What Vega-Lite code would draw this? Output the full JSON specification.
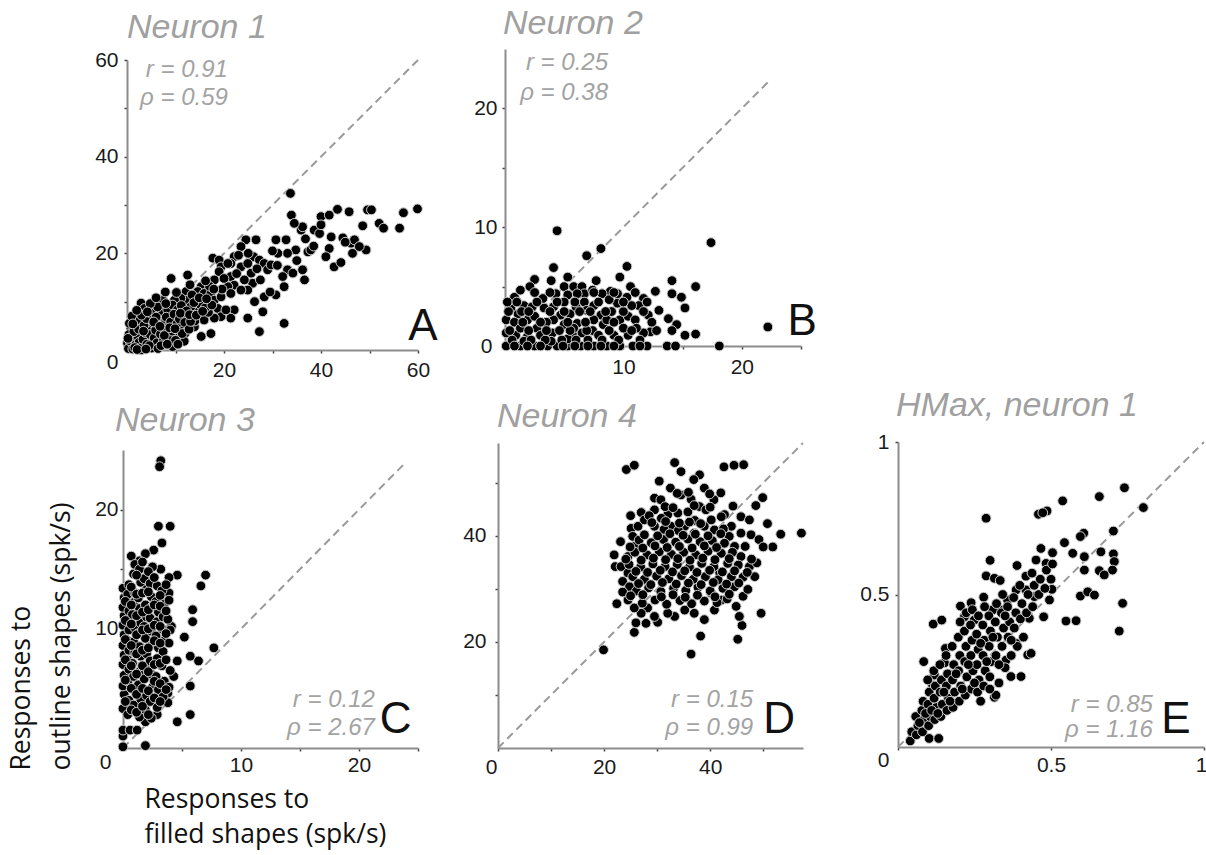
{
  "$schema": "https://vega.github.io/schema/vega-lite/v6.json",
  "background": "white",
  "padding": {"left": 8, "top": 7, "right": 4, "bottom": 4},
  "config": {
    "view": {"stroke": null},
    "axis": {
      "grid": false,
      "domainColor": "#8c8c8c",
      "domainWidth": 2,
      "tickColor": "#444444",
      "tickWidth": 1.5,
      "tickSize": 3,
      "labelFont": "Liberation Sans",
      "labelFontSize": 21,
      "labelColor": "#1a1a1a",
      "labelFlush": false,
      "labelOverlap": false,
      "titleFont": "Open Sans",
      "titleFontSize": 26.5,
      "titleFontWeight": "normal",
      "titleColor": "#111111"
    },
    "title": {
      "font": "Liberation Sans",
      "fontStyle": "italic",
      "fontWeight": "normal",
      "fontSize": 34,
      "color": "#a0a0a0",
      "anchor": "start",
      "frame": "group",
      "baseline": "alphabetic"
    }
  },
  "datasets": {
    "neuron1": [
      {"x":33.7,"y":32.4},{"x":33.9,"y":27.9},{"x":43.4,"y":29.1},{"x":45.8,"y":28.6},{"x":49.6,"y":29},{"x":50.4,"y":29},{"x":59.9,"y":29.2},{"x":57,"y":28.4},{"x":56.2,"y":25.2},{"x":52,"y":26.2},{"x":52.9,"y":25.2},{"x":48.6,"y":25.7},{"x":49.3,"y":20.7},{"x":46.2,"y":22.1},{"x":46.9,"y":22.8},{"x":47.9,"y":21.4},{"x":46.5,"y":20},{"x":40,"y":27.6},{"x":41.7,"y":27.9},{"x":42.1,"y":23.4},{"x":41.7,"y":21},{"x":41,"y":19.3},{"x":42.7,"y":17.2},{"x":44.1,"y":18.1},{"x":38.6,"y":24.8},{"x":39.7,"y":24.1},{"x":40,"y":25.9},{"x":37.3,"y":20.3},{"x":37.9,"y":20.7},{"x":35.9,"y":24.8},{"x":36.2,"y":25.5},{"x":34.5,"y":26.2},{"x":34.8,"y":20.7},{"x":33.1,"y":20},{"x":36.2,"y":16.6},{"x":36.6,"y":14.5},{"x":33.1,"y":16.6},{"x":34.2,"y":15.9},{"x":32.4,"y":5.5},{"x":30.7,"y":22.8},{"x":31.1,"y":20},{"x":32.8,"y":22.8},{"x":32.1,"y":15.2},{"x":32.4,"y":13.1},{"x":30.7,"y":11.4},{"x":28.3,"y":11},{"x":28,"y":7.9},{"x":27.3,"y":3.8},{"x":26.3,"y":10},{"x":24.9,"y":6.6},{"x":26.6,"y":22.8},{"x":24.5,"y":22.8},{"x":23.5,"y":21.4},{"x":26.1,"y":19.3},{"x":27.3,"y":18.6},{"x":28.3,"y":17.9},{"x":29,"y":16.6},{"x":29.7,"y":17.6},{"x":22.1,"y":19.3},{"x":21.4,"y":17.9},{"x":23.5,"y":17.2},{"x":24.9,"y":17.9},{"x":25.6,"y":15.9},{"x":25.9,"y":13.8},{"x":24.9,"y":12.4},{"x":21.4,"y":15.2},{"x":22.1,"y":13.4},{"x":23.5,"y":12.4},{"x":24.2,"y":14.5},{"x":20.8,"y":13.1},{"x":21.4,"y":11.7},{"x":22.1,"y":8.3},{"x":21.4,"y":6.6},{"x":17.7,"y":19},{"x":19,"y":18.6},{"x":19.4,"y":17.2},{"x":20.8,"y":17.9},{"x":19,"y":16.2},{"x":18,"y":14.5},{"x":12.5,"y":15.5},{"x":9.1,"y":14.8},{"x":15.3,"y":13.1},{"x":14.6,"y":12.1},{"x":15.9,"y":11.7},{"x":17.3,"y":11.7},{"x":18,"y":10.3},{"x":19.4,"y":11},{"x":16.6,"y":9.7},{"x":18.7,"y":8.6},{"x":19.4,"y":6.9},{"x":20.4,"y":8.3},{"x":18,"y":6.6},{"x":17.3,"y":3.4},{"x":15.9,"y":6.2},{"x":13.9,"y":4.8},{"x":15.3,"y":2.8},{"x":12.2,"y":12.1},{"x":12.5,"y":10.3},{"x":11.1,"y":10.7},{"x":9.8,"y":10.3},{"x":7.4,"y":10.3},{"x":2.9,"y":9.7},{"x":3.6,"y":8.6},{"x":1.5,"y":6.6},{"x":0.8,"y":4.5},{"x":5.6,"y":7.2},{"x":7,"y":7.9},{"x":8.4,"y":8.3},{"x":9.4,"y":9.3},{"x":10.4,"y":8.3},{"x":11.5,"y":7.2},{"x":9.8,"y":6.2},{"x":8.4,"y":5.2},{"x":11.1,"y":4.8},{"x":12.5,"y":6.9},{"x":13.5,"y":7.6},{"x":14.6,"y":8.6},{"x":8.4,"y":3.4},{"x":9.4,"y":0.7},{"x":6.3,"y":4.1},{"x":4.9,"y":2.1},{"x":2.9,"y":0},{"x":0.1,"y":1.4},{"x":0.8,"y":0.7},{"x":1.5,"y":2.1},
      {"x":44.5,"y":23.2},{"x":45,"y":22.3},{"x":38.5,"y":21.5},{"x":36.8,"y":23},{"x":35,"y":18.5},{"x":31,"y":17.5},{"x":30,"y":20.5},{"x":29.5,"y":12},{"x":27.5,"y":14.5},{"x":26.8,"y":16.8},{"x":25,"y":20},{"x":23,"y":19.6},{"x":22.6,"y":15.8},{"x":20,"y":14.8},{"x":19.6,"y":12.6},{"x":17,"y":13.2},{"x":16.2,"y":14.3},{"x":14.2,"y":10.6},{"x":13.4,"y":11.4},{"x":15.1,"y":9.4},{"x":16.8,"y":7.8},{"x":13.2,"y":9},{"x":14,"y":6},{"x":12,"y":3.5},{"x":10.6,"y":2.7},{"x":11.8,"y":1.8},
      {"x":0.3,"y":0.3},{"x":0.6,"y":1.9},{"x":1.2,"y":0.2},{"x":1.8,"y":1.1},{"x":2.2,"y":2.8},{"x":2.5,"y":1.6},{"x":3.1,"y":0.6},{"x":3.3,"y":2.2},{"x":3.8,"y":3.6},{"x":4.1,"y":1.2},{"x":4.4,"y":4.8},{"x":4.8,"y":3.2},{"x":5.1,"y":0.4},{"x":5.3,"y":5.6},{"x":5.6,"y":2.5},{"x":5.9,"y":4.1},{"x":6.2,"y":1.5},{"x":6.6,"y":6.1},{"x":6.9,"y":3.3},{"x":7.2,"y":5.2},{"x":7.5,"y":1.9},{"x":7.8,"y":4.4},{"x":8.1,"y":6.8},{"x":8.6,"y":2.4},{"x":9,"y":5.8},{"x":9.3,"y":3.9},{"x":9.7,"y":7.4},{"x":10,"y":2},{"x":10.3,"y":5.4},{"x":10.8,"y":6.4},{"x":11.4,"y":3.4},{"x":11.9,"y":5.7},{"x":12.8,"y":4.3},{"x":13.1,"y":5.9},{"x":0.4,"y":3.2},{"x":0.5,"y":5.5},{"x":1,"y":7},{"x":1.4,"y":3.8},{"x":2,"y":5.2},{"x":2.4,"y":4.3},{"x":2.7,"y":6.2},{"x":3.5,"y":5.1},{"x":4,"y":6.5},{"x":4.6,"y":0.9},{"x":5,"y":7.6},{"x":6,"y":6.8},{"x":6.4,"y":0.3},{"x":7,"y":0.9},{"x":7.7,"y":3},{"x":8.3,"y":1.2},{"x":0.2,"y":2.4},{"x":1.6,"y":0.5},{"x":2.1,"y":0.1},{"x":3.9,"y":0.2},{"x":8.8,"y":4.6},{"x":9.9,"y":4.4},{"x":10.5,"y":1.2},{"x":11.2,"y":9.2},{"x":12.3,"y":8.1},{"x":13.8,"y":9.8},{"x":14.9,"y":10.8},{"x":16.1,"y":8.7},{"x":17.5,"y":9.3},{"x":6.3,"y":8.9},{"x":4.8,"y":9.6},{"x":8,"y":9.6},{"x":3,"y":7.2},{"x":2,"y":8.2},
      {"x":11,"y":7.6},{"x":12.9,"y":7.3},{"x":14.3,"y":7.2},{"x":15.6,"y":8},{"x":16.4,"y":10.6},{"x":17.9,"y":12.6},{"x":13,"y":13.5},{"x":10.2,"y":11.9},{"x":7.9,"y":12},{"x":6,"y":10.8},{"x":4.2,"y":7.9},{"x":5.5,"y":5.8},{"x":6.8,"y":4.9},{"x":3.4,"y":3.9},{"x":1.2,"y":5.4}
    ],
    "neuron2": [
      {"x":4.4,"y":9.7},{"x":8.1,"y":8.2},{"x":6.9,"y":7.6},{"x":17.4,"y":8.7},{"x":4.1,"y":6.6},{"x":10.3,"y":6.7},{"x":9.7,"y":5.8},{"x":7.7,"y":5.5},{"x":2.5,"y":5.6},{"x":2.1,"y":5},{"x":3.9,"y":5.5},{"x":4.3,"y":4.4},{"x":5,"y":5},{"x":5.8,"y":5},{"x":6.5,"y":5},{"x":6.7,"y":4.4},{"x":5.3,"y":4.3},{"x":10.6,"y":5},{"x":10.3,"y":4.1},{"x":8.9,"y":4.6},{"x":8.2,"y":4.4},{"x":12.7,"y":4.6},{"x":14.1,"y":5.5},{"x":14.1,"y":4.4},{"x":14.9,"y":4.1},{"x":15.2,"y":3.2},{"x":16.1,"y":5},{"x":11.7,"y":4},{"x":11.3,"y":3.4},{"x":10.7,"y":3.4},{"x":13,"y":3},{"x":12.1,"y":2.6},{"x":13.8,"y":2.3},{"x":14.5,"y":1.8},{"x":14.1,"y":1.3},{"x":15.2,"y":0.9},{"x":16.1,"y":1},{"x":18.1,"y":0},{"x":22.2,"y":1.6},{"x":12.3,"y":1.2},{"x":11.7,"y":1.1},{"x":12,"y":0},{"x":13.7,"y":0},{"x":14.4,"y":0},{"x":9.7,"y":0},{"x":10.4,"y":0.9},{"x":8.6,"y":0},{"x":7.5,"y":0},{"x":6.4,"y":0},{"x":5.3,"y":0},{"x":4.4,"y":0},{"x":3.6,"y":0},{"x":2.5,"y":0},{"x":1.3,"y":0},{"x":0.1,"y":0},
      {"x":0.1,"y":2.2},{"x":0.1,"y":1.1},{"x":0.8,"y":4.1},{"x":1.6,"y":3.4},{"x":1.1,"y":2.7},{"x":1.9,"y":2.2},{"x":2.7,"y":1.5},{"x":2.5,"y":2.5},{"x":3.3,"y":3.2},{"x":3.2,"y":4},{"x":4.1,"y":3.3},{"x":4.7,"y":2.6},{"x":4.1,"y":2.2},{"x":5.5,"y":2.7},{"x":6,"y":3.3},{"x":6.1,"y":1.9},{"x":5,"y":1.8},{"x":4,"y":1.1},{"x":3,"y":0.9},{"x":1.9,"y":0.8},{"x":0.9,"y":0.9},{"x":0.8,"y":2},{"x":1.3,"y":1.5},{"x":2.3,"y":3.3},{"x":5,"y":3.7},{"x":6.7,"y":3.7},{"x":6.9,"y":3},{"x":7.5,"y":3.4},{"x":8.1,"y":2.6},{"x":7.5,"y":2.2},{"x":8.3,"y":1.8},{"x":7.4,"y":1.3},{"x":6.5,"y":1.1},{"x":5.7,"y":0.9},{"x":7.9,"y":0.9},{"x":8.6,"y":2.2},{"x":9,"y":2.9},{"x":9.5,"y":3.6},{"x":9.7,"y":2.2},{"x":10.4,"y":2.5},{"x":11,"y":2.2},{"x":11.1,"y":1.5},{"x":10,"y":1.5},{"x":9.2,"y":0.9},{"x":8.8,"y":3.9},{"x":5.3,"y":0.6},{"x":0.5,"y":3.2},{"x":1.3,"y":4.7},{"x":1.6,"y":0.4},{"x":3.9,"y":0.4},{"x":5.8,"y":1.5},{"x":3.5,"y":2},{"x":6.1,"y":4.4},{"x":7.4,"y":4.7},{"x":9.5,"y":4.4},{"x":5.3,"y":5.8},
      {"x":0.6,"y":0.5},{"x":2.2,"y":0.5},{"x":3.4,"y":0.5},{"x":4.8,"y":0.5},{"x":6,"y":0.5},{"x":7,"y":0.5},{"x":8.2,"y":0.5},{"x":9.6,"y":0.5},{"x":11.4,"y":0.5},
      {"x":0.4,"y":1.3},{"x":2,"y":1.3},{"x":3.5,"y":1.3},{"x":4.6,"y":1.3},{"x":5.5,"y":1.3},{"x":6.9,"y":1.3},{"x":8.8,"y":1.3},{"x":10.7,"y":1.3},{"x":12.8,"y":1.3},
      {"x":1.5,"y":2},{"x":3,"y":2},{"x":5.3,"y":2},{"x":6.8,"y":2},{"x":9.2,"y":2},{"x":12.4,"y":2},
      {"x":0.3,"y":2.9},{"x":1.4,"y":2.9},{"x":2,"y":2.9},{"x":3.8,"y":2.9},{"x":5,"y":2.9},{"x":6.3,"y":2.9},{"x":7.2,"y":2.9},{"x":8.5,"y":2.9},{"x":10,"y":2.9},{"x":11.7,"y":2.9},
      {"x":0.2,"y":3.7},{"x":1,"y":3.7},{"x":2.7,"y":3.7},{"x":4.4,"y":3.7},{"x":5.9,"y":3.7},{"x":7.9,"y":3.7},{"x":10,"y":3.7},{"x":12,"y":3.7},
      {"x":2.5,"y":4.5},{"x":3.8,"y":4.5},{"x":7.5,"y":4.5},{"x":9.2,"y":4.5},{"x":11,"y":4.5},
      {"x":0.8,"y":0},{"x":1.9,"y":0},{"x":3,"y":0},{"x":4.9,"y":0},{"x":5.9,"y":0},{"x":7,"y":0},{"x":8.1,"y":0},{"x":9.2,"y":0},{"x":10.8,"y":0},{"x":11.4,"y":0}
    ],
    "neuron3": [
      {"x":3.2,"y":24.1},{"x":3.1,"y":23.6},{"x":3,"y":18.6},{"x":4,"y":18.6},{"x":3.3,"y":17.2},{"x":2.6,"y":16.6},{"x":1.9,"y":16.3},{"x":0.7,"y":16.1},{"x":1.4,"y":15.7},{"x":3.2,"y":15},{"x":4.6,"y":14.5},{"x":7,"y":14.5},{"x":6.6,"y":13.6},{"x":3.9,"y":14.3},{"x":3.9,"y":13},{"x":5.9,"y":11.6},{"x":5.9,"y":10.6},{"x":5.2,"y":9.3},{"x":4.1,"y":10.2},{"x":7.7,"y":8.4},{"x":5.7,"y":7.7},{"x":6.4,"y":7.3},{"x":4.6,"y":7.3},{"x":4.3,"y":6},{"x":3.8,"y":4.6},{"x":3.8,"y":3.8},{"x":5.7,"y":5.2},{"x":5.7,"y":2.8},{"x":4.6,"y":2.2},{"x":1.9,"y":0.2},{"x":0,"y":0.1},{"x":0,"y":1},{"x":0,"y":1.5},{"x":0.6,"y":1.5},{"x":1.2,"y":1.5},{"x":1.9,"y":2.2},{"x":2.9,"y":2.8},
      {"x":0,"y":3.3},{"x":0.1,"y":4.5},{"x":0,"y":5.2},{"x":0.1,"y":6.1},{"x":0,"y":7},{"x":0.1,"y":7.8},{"x":0,"y":8.6},{"x":0.1,"y":9.5},{"x":0,"y":10.3},{"x":0.1,"y":11.1},{"x":0,"y":11.8},{"x":0.1,"y":12.6},{"x":0,"y":13.4},
      {"x":0.4,"y":2.8},{"x":0.5,"y":4},{"x":0.4,"y":5.6},{"x":0.5,"y":6.6},{"x":0.4,"y":7.4},{"x":0.5,"y":8.2},{"x":0.4,"y":9},{"x":0.5,"y":9.9},{"x":0.4,"y":10.8},{"x":0.5,"y":11.5},{"x":0.4,"y":12.9},{"x":0.5,"y":13.7},
      {"x":0.9,"y":3.6},{"x":1,"y":4.8},{"x":0.9,"y":6},{"x":0.8,"y":7.1},{"x":1,"y":8},{"x":0.9,"y":8.9},{"x":1,"y":10.1},{"x":0.8,"y":11.2},{"x":0.9,"y":12.2},{"x":1,"y":13},{"x":0.9,"y":14.6},{"x":1,"y":15.4},
      {"x":1.4,"y":2.6},{"x":1.5,"y":4.1},{"x":1.3,"y":5.3},{"x":1.4,"y":6.4},{"x":1.5,"y":7.7},{"x":1.4,"y":8.5},{"x":1.3,"y":9.6},{"x":1.5,"y":10.5},{"x":1.4,"y":11.7},{"x":1.3,"y":12.6},{"x":1.5,"y":13.9},{"x":1.4,"y":15},
      {"x":1.9,"y":3.2},{"x":2,"y":4.4},{"x":1.8,"y":5.8},{"x":1.9,"y":6.8},{"x":2,"y":7.9},{"x":1.9,"y":9.2},{"x":1.8,"y":10.2},{"x":2,"y":11},{"x":1.9,"y":12},{"x":2,"y":13.3},{"x":1.8,"y":14.2},
      {"x":2.4,"y":2.5},{"x":2.3,"y":3.9},{"x":2.5,"y":5.1},{"x":2.4,"y":6.2},{"x":2.3,"y":7.3},{"x":2.5,"y":8.7},{"x":2.4,"y":9.8},{"x":2.3,"y":10.9},{"x":2.5,"y":11.9},{"x":2.4,"y":12.7},{"x":2.3,"y":13.8},{"x":2.5,"y":15.2},
      {"x":2.9,"y":3.4},{"x":3,"y":4.9},{"x":2.8,"y":6},{"x":2.9,"y":7.5},{"x":3,"y":8.4},{"x":2.8,"y":9.4},{"x":2.9,"y":10.6},{"x":3,"y":11.4},{"x":2.8,"y":12.3},{"x":2.9,"y":13.6},
      {"x":3.4,"y":4.3},{"x":3.5,"y":5.6},{"x":3.3,"y":6.9},{"x":3.4,"y":8.1},{"x":3.5,"y":9},{"x":3.3,"y":10},{"x":3.4,"y":11},{"x":3.5,"y":12.1},{"x":3.3,"y":13.2},
      {"x":3.9,"y":5.1},{"x":4,"y":6.5},{"x":3.9,"y":8.8},{"x":4,"y":9.9},{"x":3.8,"y":10.8},{"x":3.9,"y":12.4},
      {"x":0.2,"y":3.9},{"x":0.2,"y":5.7},{"x":0.2,"y":7.4},{"x":0.2,"y":9.1},{"x":0.2,"y":10.7},{"x":0.2,"y":12.3},
      {"x":0.7,"y":3.2},{"x":0.7,"y":5},{"x":0.7,"y":6.9},{"x":0.7,"y":8.6},{"x":0.7,"y":10.4},{"x":0.7,"y":12},{"x":0.7,"y":13.5},
      {"x":1.15,"y":3},{"x":1.15,"y":4.5},{"x":1.15,"y":6.2},{"x":1.15,"y":7.9},{"x":1.15,"y":9.5},{"x":1.15,"y":11.1},{"x":1.15,"y":12.9},{"x":1.15,"y":14.5},
      {"x":1.65,"y":3.5},{"x":1.65,"y":5},{"x":1.65,"y":6.9},{"x":1.65,"y":8.2},{"x":1.65,"y":9.9},{"x":1.65,"y":11.4},{"x":1.65,"y":13},{"x":1.65,"y":15.6},
      {"x":2.15,"y":2.8},{"x":2.15,"y":4.8},{"x":2.15,"y":6.4},{"x":2.15,"y":8.4},{"x":2.15,"y":10},{"x":2.15,"y":11.6},{"x":2.15,"y":13.1},{"x":2.15,"y":14.8},
      {"x":2.65,"y":4.2},{"x":2.65,"y":5.6},{"x":2.65,"y":7},{"x":2.65,"y":9},{"x":2.65,"y":10.3},{"x":2.65,"y":12},{"x":2.65,"y":14.3},
      {"x":3.15,"y":3.9},{"x":3.15,"y":5.4},{"x":3.15,"y":7.1},{"x":3.15,"y":8.8},{"x":3.15,"y":10.2},{"x":3.15,"y":11.9},{"x":3.15,"y":12.8},
      {"x":3.65,"y":4.9},{"x":3.65,"y":7.4},{"x":3.65,"y":9.6},{"x":3.65,"y":11.5},{"x":3.65,"y":13.7}
    ],
    "neuron4": [
      {"x":19.9,"y":18.5},{"x":36.4,"y":17.7},{"x":38.2,"y":21.1},{"x":45.2,"y":20.5},{"x":46,"y":23.1},{"x":25.7,"y":21.8},{"x":26,"y":23.6},{"x":27.9,"y":23.5},{"x":30.1,"y":23.7},{"x":22.4,"y":27.2},{"x":49.6,"y":25.4},{"x":57.2,"y":40.5},{"x":53.3,"y":40.3},{"x":51.8,"y":37.9},{"x":50.8,"y":42.3},{"x":49.9,"y":47.2},{"x":48.6,"y":45.7},{"x":46.3,"y":53.4},{"x":44.5,"y":53.3},{"x":42.6,"y":53},{"x":33.3,"y":53.8},{"x":34.5,"y":52.1},{"x":24.2,"y":52.5},{"x":25.7,"y":53.3},{"x":38,"y":51.5},{"x":36.9,"y":50.6},{"x":30.4,"y":50.3},{"x":32.5,"y":49},{"x":38.9,"y":49},{"x":29.5,"y":47.1},{"x":30.7,"y":46.8},{"x":34.5,"y":47.7},{"x":40.7,"y":46.8},{"x":36.4,"y":46.9},{"x":27,"y":44.4},{"x":25,"y":43.8},{"x":32,"y":44},{"x":33.9,"y":44.3},{"x":35.8,"y":44.5},{"x":38,"y":45.5},{"x":39.2,"y":44.9},{"x":42.7,"y":44},{"x":45.8,"y":43.6},{"x":47.4,"y":43},{"x":23.1,"y":38.9},{"x":21.9,"y":36.4},{"x":22.1,"y":34.2},{"x":23.5,"y":31.4},{"x":25.1,"y":41.4},{"x":25.4,"y":39.9},
      {"x":44.6,"y":30.4},{"x":46.2,"y":28.6},{"x":44.9,"y":26.7},{"x":45.5,"y":24.8},{"x":47.4,"y":34.2},{"x":48.4,"y":32.3},{"x":47.7,"y":40.2},{"x":45.8,"y":40.5},{"x":43.6,"y":39.9},{"x":44.6,"y":38},{"x":45.8,"y":36.1},{"x":43.3,"y":34.8},{"x":44,"y":32.3},{"x":42.1,"y":36.7},{"x":41.8,"y":33},{"x":42.1,"y":27.9},{"x":40.2,"y":29.2},{"x":40.8,"y":26},{"x":38.9,"y":24.2},{"x":37,"y":25.4},{"x":35.2,"y":26},{"x":33.3,"y":24.8},{"x":32,"y":25.4},{"x":29.5,"y":24.8},{"x":28.2,"y":26.4},{"x":27,"y":25.4},{"x":25.7,"y":26.4},{"x":24.5,"y":27.9},{"x":24.8,"y":30.4},{"x":23.5,"y":29.4},{"x":23.2,"y":34.2},{"x":24.5,"y":36.1},{"x":25.7,"y":38},{"x":24.5,"y":33},{"x":26.4,"y":41.8},{"x":27.6,"y":43},{"x":29.5,"y":41.8},{"x":29.5,"y":44.9},{"x":30.8,"y":43.3},{"x":32.6,"y":41.8},{"x":35.2,"y":41.8},{"x":37,"y":40.5},{"x":38.9,"y":41.8},{"x":40.2,"y":43},{"x":40.8,"y":41.1},{"x":42.1,"y":43.6},{"x":44,"y":41.8},
      {"x":27.2,"y":27.3},{"x":29.6,"y":27.9},{"x":31.8,"y":27.1},{"x":34.3,"y":27.8},{"x":36.5,"y":27.2},{"x":38.9,"y":27.7},{"x":41.3,"y":27.4},{"x":43.2,"y":28.1},
      {"x":26.1,"y":29.6},{"x":28.4,"y":30.2},{"x":30.7,"y":29.5},{"x":33.1,"y":30.1},{"x":35.4,"y":29.7},{"x":37.7,"y":30.3},{"x":40,"y":29.6},{"x":42.4,"y":30.1},{"x":47.1,"y":29.9},
      {"x":25.4,"y":32.3},{"x":27.6,"y":31.8},{"x":29.9,"y":32.4},{"x":32.2,"y":31.9},{"x":34.6,"y":32.5},{"x":36.8,"y":31.8},{"x":39.1,"y":32.3},{"x":41.5,"y":31.7},{"x":46.2,"y":32.2},
      {"x":24.7,"y":34.6},{"x":26.9,"y":34.1},{"x":29.2,"y":34.7},{"x":31.5,"y":34.2},{"x":33.8,"y":34.6},{"x":36.1,"y":34.1},{"x":38.4,"y":34.8},{"x":40.7,"y":34.2},{"x":45.3,"y":34.5},{"x":48.8,"y":34.9},
      {"x":25.8,"y":36.9},{"x":28.1,"y":36.4},{"x":30.4,"y":37},{"x":32.7,"y":36.5},{"x":35,"y":36.9},{"x":37.3,"y":36.4},{"x":39.6,"y":37.1},{"x":44.2,"y":36.9},
      {"x":26.6,"y":39.2},{"x":28.9,"y":38.7},{"x":31.2,"y":39.3},{"x":33.5,"y":38.8},{"x":35.8,"y":39.4},{"x":38.1,"y":38.9},{"x":40.4,"y":39.1},{"x":42.7,"y":38.6},{"x":49.2,"y":39.3},
      {"x":31.3,"y":41.2},{"x":34,"y":41},{"x":42.5,"y":41.3},{"x":28.5,"y":43.8},{"x":37.1,"y":42.9},
      {"x":25,"y":28.7},{"x":27.3,"y":28.9},{"x":30.8,"y":28.5},{"x":33,"y":28.9},{"x":35.3,"y":28.4},{"x":37.6,"y":28.8},{"x":40.9,"y":28.5},{"x":43.6,"y":29},
      {"x":26.5,"y":31},{"x":28.8,"y":30.8},{"x":31,"y":31.2},{"x":33.6,"y":30.9},{"x":35.9,"y":31.1},{"x":38.3,"y":30.8},{"x":40.6,"y":31.2},{"x":43.1,"y":30.9},{"x":45.4,"y":31.1},
      {"x":26,"y":33.3},{"x":28.2,"y":33.1},{"x":30.6,"y":33.5},{"x":32.9,"y":33.2},{"x":35.2,"y":33.4},{"x":37.5,"y":33.1},{"x":39.9,"y":33.5},{"x":42.3,"y":33.2},{"x":44.6,"y":33.4},{"x":47,"y":33.1},
      {"x":24.1,"y":35.6},{"x":27,"y":35.4},{"x":29.3,"y":35.8},{"x":31.6,"y":35.5},{"x":33.9,"y":35.7},{"x":36.2,"y":35.4},{"x":38.6,"y":35.8},{"x":40.9,"y":35.5},{"x":43.6,"y":35.7},{"x":47.8,"y":35.6},
      {"x":24.9,"y":37.9},{"x":27.3,"y":37.7},{"x":29.6,"y":38.1},{"x":31.9,"y":37.8},{"x":34.2,"y":38},{"x":36.6,"y":37.7},{"x":38.9,"y":38.1},{"x":41.2,"y":37.8},{"x":46.6,"y":38},{"x":50,"y":37.9},
      {"x":27.6,"y":40.2},{"x":30.1,"y":40},{"x":32.4,"y":40.4},{"x":34.9,"y":40.1},{"x":37.2,"y":40.3},{"x":39.6,"y":40},{"x":42,"y":40.4},
      {"x":29,"y":42.5},{"x":31.6,"y":42.7},{"x":34.2,"y":42.4},{"x":36.1,"y":42.6},{"x":38.2,"y":42.3},
      {"x":31.5,"y":45.5},{"x":33,"y":45.3},{"x":37,"y":45.7},{"x":40,"y":45.4},{"x":44.3,"y":45.6},
      {"x":33.8,"y":48},{"x":35.9,"y":48.2},{"x":39.9,"y":47.9},{"x":42,"y":48.1}
    ],
    "hmax1": [
      {"x":0.74,"y":0.85},{"x":0.802,"y":0.785},{"x":0.658,"y":0.821},{"x":0.538,"y":0.807},{"x":0.459,"y":0.763},{"x":0.487,"y":0.774},{"x":0.473,"y":0.768},{"x":0.288,"y":0.75},{"x":0.704,"y":0.708},{"x":0.607,"y":0.701},{"x":0.596,"y":0.69},{"x":0.544,"y":0.67},{"x":0.467,"y":0.651},{"x":0.505,"y":0.637},{"x":0.571,"y":0.635},{"x":0.609,"y":0.624},{"x":0.663,"y":0.64},{"x":0.704,"y":0.633},{"x":0.707,"y":0.608},{"x":0.701,"y":0.58},{"x":0.609,"y":0.58},{"x":0.658,"y":0.578},{"x":0.674,"y":0.564},{"x":0.451,"y":0.613},{"x":0.484,"y":0.602},{"x":0.389,"y":0.595},{"x":0.301,"y":0.612},{"x":0.288,"y":0.561},{"x":0.315,"y":0.553},{"x":0.334,"y":0.546},{"x":0.28,"y":0.491},{"x":0.596,"y":0.495},{"x":0.62,"y":0.509},{"x":0.642,"y":0.498},{"x":0.734,"y":0.471},{"x":0.723,"y":0.38},{"x":0.549,"y":0.413},{"x":0.582,"y":0.414},{"x":0.476,"y":0.427},{"x":0.429,"y":0.422},{"x":0.495,"y":0.482},{"x":0.503,"y":0.517},{"x":0.446,"y":0.493},{"x":0.418,"y":0.515},{"x":0.386,"y":0.515},{"x":0.358,"y":0.482},{"x":0.337,"y":0.449},{"x":0.309,"y":0.449},{"x":0.115,"y":0.403},{"x":0.143,"y":0.416},{"x":0.204,"y":0.462},{"x":0.239,"y":0.473},{"x":0.217,"y":0.427},{"x":0.249,"y":0.416},{"x":0.084,"y":0.28},{"x":0.155,"y":0.323},{"x":0.152,"y":0.276},{"x":0.119,"y":0.236},{"x":0.113,"y":0.203},{"x":0.369,"y":0.231},{"x":0.402,"y":0.231},{"x":0.315,"y":0.163},{"x":0.353,"y":0.285},{"x":0.424,"y":0.302},{"x":0.435,"y":0.307},{"x":0.386,"y":0.34},{"x":0.102,"y":0.028},{"x":0.133,"y":0.028},
      {"x":0.04,"y":0.02},{"x":0.045,"y":0.05},{"x":0.06,"y":0.04},{"x":0.065,"y":0.07},{"x":0.058,"y":0.1},{"x":0.08,"y":0.05},{"x":0.085,"y":0.09},{"x":0.078,"y":0.12},{"x":0.082,"y":0.15},{"x":0.1,"y":0.07},{"x":0.105,"y":0.1},{"x":0.098,"y":0.14},{"x":0.102,"y":0.18},{"x":0.097,"y":0.22},{"x":0.12,"y":0.09},{"x":0.125,"y":0.13},{"x":0.118,"y":0.16},{"x":0.122,"y":0.2},{"x":0.117,"y":0.25},{"x":0.14,"y":0.1},{"x":0.145,"y":0.14},{"x":0.138,"y":0.18},{"x":0.142,"y":0.22},{"x":0.137,"y":0.27},{"x":0.16,"y":0.12},{"x":0.165,"y":0.16},{"x":0.158,"y":0.2},{"x":0.162,"y":0.24},{"x":0.157,"y":0.3},{"x":0.18,"y":0.13},{"x":0.185,"y":0.18},{"x":0.178,"y":0.22},{"x":0.182,"y":0.27},{"x":0.177,"y":0.33},{"x":0.2,"y":0.15},{"x":0.205,"y":0.2},{"x":0.198,"y":0.25},{"x":0.202,"y":0.3},{"x":0.197,"y":0.36},{"x":0.203,"y":0.41},{"x":0.22,"y":0.17},{"x":0.225,"y":0.23},{"x":0.218,"y":0.28},{"x":0.222,"y":0.33},{"x":0.217,"y":0.38},{"x":0.223,"y":0.44},{"x":0.24,"y":0.19},{"x":0.245,"y":0.25},{"x":0.238,"y":0.3},{"x":0.242,"y":0.35},{"x":0.237,"y":0.4},{"x":0.243,"y":0.45},{"x":0.26,"y":0.18},{"x":0.265,"y":0.22},{"x":0.258,"y":0.27},{"x":0.262,"y":0.32},{"x":0.257,"y":0.37},{"x":0.263,"y":0.43},{"x":0.28,"y":0.2},{"x":0.285,"y":0.25},{"x":0.278,"y":0.3},{"x":0.282,"y":0.35},{"x":0.277,"y":0.4},{"x":0.283,"y":0.46},{"x":0.3,"y":0.23},{"x":0.305,"y":0.28},{"x":0.298,"y":0.33},{"x":0.302,"y":0.38},{"x":0.297,"y":0.43},{"x":0.32,"y":0.3},{"x":0.325,"y":0.36},{"x":0.318,"y":0.41},{"x":0.322,"y":0.47},{"x":0.34,"y":0.33},{"x":0.345,"y":0.39},{"x":0.338,"y":0.44},{"x":0.342,"y":0.5},{"x":0.36,"y":0.36},{"x":0.365,"y":0.41},{"x":0.358,"y":0.46},{"x":0.38,"y":0.39},{"x":0.385,"y":0.44},{"x":0.378,"y":0.49},{"x":0.4,"y":0.42},{"x":0.405,"y":0.47},{"x":0.398,"y":0.53},{"x":0.42,"y":0.44},{"x":0.425,"y":0.5},{"x":0.418,"y":0.56},{"x":0.44,"y":0.46},{"x":0.445,"y":0.53},{"x":0.438,"y":0.57},{"x":0.46,"y":0.5},{"x":0.465,"y":0.55},{"x":0.48,"y":0.52},{"x":0.485,"y":0.58},{"x":0.5,"y":0.55},{"x":0.505,"y":0.6},
      {"x":0.32,"y":0.17},{"x":0.3,"y":0.19},{"x":0.27,"y":0.15},{"x":0.33,"y":0.21},{"x":0.35,"y":0.26},{"x":0.37,"y":0.3},{"x":0.39,"y":0.33},{"x":0.41,"y":0.36},
      {"x":0.07,"y":0.08},{"x":0.09,"y":0.11},{"x":0.11,"y":0.12},{"x":0.13,"y":0.11},{"x":0.15,"y":0.18},{"x":0.17,"y":0.15},{"x":0.19,"y":0.24},{"x":0.21,"y":0.19},{"x":0.23,"y":0.27},{"x":0.25,"y":0.21},{"x":0.27,"y":0.34},{"x":0.29,"y":0.28},{"x":0.31,"y":0.36},{"x":0.33,"y":0.27},{"x":0.35,"y":0.43},{"x":0.37,"y":0.35}
    ]
  },
  "vconcat": [
    {
      "bounds": "flush",
      "spacing": 87,
      "hconcat": [
        {
          "width": 295,
          "height": 301,
          "title": {"text": "Neuron 1", "offset": 4, "dx": 4},
          "layer": [
            {
              "data": {"values": [{}]},
              "mark": {"type": "rule", "color": "#9a9a9a", "strokeWidth": 2, "strokeDash": [8, 5]},
              "encoding": {
                "x": {"datum": 0, "type": "quantitative"},
                "y": {"datum": 0, "type": "quantitative"},
                "x2": {"datum": 60},
                "y2": {"datum": 60}
              }
            },
            {
              "data": {"name": "neuron1"},
              "mark": {"type": "circle", "size": 95, "fill": "#000000", "stroke": "#d0d0d0", "strokeWidth": 1, "opacity": 1},
              "encoding": {
                "x": {
                  "field": "x", "type": "quantitative",
                  "scale": {"domain": [0, 60], "range": [4, 295], "nice": false},
                  "axis": {"title": null, "values": [10, 20, 30, 40, 50, 60], "labelPadding": 6,
                           "labelExpr": "datum.value % 20 === 0 ? datum.label : ''"}
                },
                "y": {
                  "field": "y", "type": "quantitative",
                  "scale": {"domain": [0, 60], "range": [301, 11], "nice": false},
                  "axis": {"title": null, "offset": -4, "values": [0, 10, 20, 30, 40, 50, 60], "labelPadding": 6,
                           "labelExpr": "datum.value % 20 === 0 ? datum.label : ''",
                           "labelOffset": {"condition": {"test": "datum.value === 0", "value": 12}, "value": 0},
                           "tickOpacity": {"condition": {"test": "datum.value === 0", "value": 0}, "value": 1}}
                }
              }
            },
            {
              "data": {"values": [{}]},
              "mark": {"type": "text", "text": "r = 0.91", "font": "Liberation Sans", "fontStyle": "italic", "fontSize": 24, "color": "#a3a3a3", "align": "right", "baseline": "middle"},
              "encoding": {"x": {"datum": 20.8, "type": "quantitative"}, "y": {"datum": 58, "type": "quantitative"}}
            },
            {
              "data": {"values": [{}]},
              "mark": {"type": "text", "text": "ρ = 0.59", "font": "Liberation Sans", "fontStyle": "italic", "fontSize": 24, "color": "#a3a3a3", "align": "right", "baseline": "middle"},
              "encoding": {"x": {"datum": 20.8, "type": "quantitative"}, "y": {"datum": 52.2, "type": "quantitative"}}
            },
            {
              "data": {"values": [{}]},
              "mark": {"type": "text", "text": "A", "font": "Liberation Sans", "fontSize": 44, "color": "#111111", "align": "center", "baseline": "alphabetic"},
              "encoding": {"x": {"datum": 61, "type": "quantitative"}, "y": {"datum": 2.1, "type": "quantitative"}}
            }
          ]
        },
        {
          "width": 296,
          "height": 297,
          "title": {"text": "Neuron 2", "offset": 8, "dx": -2},
          "layer": [
            {
              "data": {"values": [{}]},
              "mark": {"type": "rule", "color": "#9a9a9a", "strokeWidth": 2, "strokeDash": [8, 5]},
              "encoding": {
                "x": {"datum": 0, "type": "quantitative"},
                "y": {"datum": 0, "type": "quantitative"},
                "x2": {"datum": 22.3},
                "y2": {"datum": 22.3}
              }
            },
            {
              "data": {"name": "neuron2"},
              "mark": {"type": "circle", "size": 95, "fill": "#000000", "stroke": "#d0d0d0", "strokeWidth": 1, "opacity": 1},
              "encoding": {
                "x": {
                  "field": "x", "type": "quantitative",
                  "scale": {"domain": [0, 25], "nice": false},
                  "axis": {"title": null, "values": [5, 10, 15, 20, 25], "labelPadding": 7,
                           "labelExpr": "datum.value % 10 === 0 ? datum.label : ''"}
                },
                "y": {
                  "field": "y", "type": "quantitative",
                  "scale": {"domain": [0, 25], "nice": false},
                  "axis": {"title": null, "values": [0, 5, 10, 15, 20], "labelPadding": {"condition": {"test": "datum.value === 0", "value": 10}, "value": 5},
                           "labelExpr": "datum.value % 10 === 0 ? datum.label : ''"}
                }
              }
            },
            {
              "data": {"values": [{}]},
              "mark": {"type": "text", "text": "r = 0.25", "font": "Liberation Sans", "fontStyle": "italic", "fontSize": 24, "color": "#a3a3a3", "align": "right", "baseline": "middle"},
              "encoding": {"x": {"datum": 8.7, "type": "quantitative"}, "y": {"datum": 23.8, "type": "quantitative"}}
            },
            {
              "data": {"values": [{}]},
              "mark": {"type": "text", "text": "ρ = 0.38", "font": "Liberation Sans", "fontStyle": "italic", "fontSize": 24, "color": "#a3a3a3", "align": "right", "baseline": "middle"},
              "encoding": {"x": {"datum": 8.7, "type": "quantitative"}, "y": {"datum": 21.3, "type": "quantitative"}}
            },
            {
              "data": {"values": [{}]},
              "mark": {"type": "text", "text": "B", "font": "Liberation Sans", "fontSize": 44, "color": "#111111", "align": "center", "baseline": "alphabetic"},
              "encoding": {"x": {"datum": 25.1, "type": "quantitative"}, "y": {"datum": 0.9, "type": "quantitative"}}
            }
          ]
        }
      ]
    },
    {
      "bounds": "flush",
      "spacing": 80,
      "hconcat": [
        {
          "width": 295,
          "height": 306,
          "title": {"text": "Neuron 3", "offset": 4, "dx": -8},
          "layer": [
            {
              "data": {"values": [{}]},
              "mark": {"type": "rule", "color": "#9a9a9a", "strokeWidth": 2, "strokeDash": [8, 5]},
              "encoding": {
                "x": {"datum": 0, "type": "quantitative"},
                "y": {"datum": 0, "type": "quantitative"},
                "x2": {"datum": 24},
                "y2": {"datum": 24}
              }
            },
            {
              "data": {"name": "neuron3"},
              "mark": {"type": "circle", "size": 95, "fill": "#000000", "stroke": "#d0d0d0", "strokeWidth": 1, "opacity": 1},
              "encoding": {
                "x": {
                  "field": "x", "type": "quantitative",
                  "scale": {"domain": [0, 25], "nice": false},
                  "axis": {"title": ["Responses to", "filled shapes (spk/s)"], "titleX": 21, "titleY": 59,
                           "titleAlign": "left", "titleBaseline": "alphabetic", "titleLineHeight": 35,
                           "values": [5, 10, 15, 20, 25], "labelPadding": 3,
                           "labelExpr": "datum.value % 10 === 0 ? datum.label : ''"}
                },
                "y": {
                  "field": "y", "type": "quantitative",
                  "scale": {"domain": [0, 25], "range": [306, 8], "nice": false},
                  "axis": {"title": ["Responses to", "outline shapes (spk/s)"], "titleX": -94, "titleY": 328,
                           "titleAngle": -90, "titleAlign": "left", "titleBaseline": "alphabetic", "titleLineHeight": 40,
                           "values": [0, 5, 10, 15, 20],
                           "labelPadding": {"condition": {"test": "datum.value === 0", "value": 9}, "value": 2},
                           "labelOffset": {"condition": {"test": "datum.value === 0", "value": 14}, "value": 0},
                           "tickOpacity": {"condition": {"test": "datum.value === 0", "value": 0}, "value": 1},
                           "labelExpr": "datum.value % 10 === 0 ? datum.label : ''"}
                }
              }
            },
            {
              "data": {"values": [{}]},
              "mark": {"type": "text", "text": "r = 0.12", "font": "Liberation Sans", "fontStyle": "italic", "fontSize": 24, "color": "#a3a3a3", "align": "right", "baseline": "middle"},
              "encoding": {"x": {"datum": 21.35, "type": "quantitative"}, "y": {"datum": 4.0, "type": "quantitative"}}
            },
            {
              "data": {"values": [{}]},
              "mark": {"type": "text", "text": "ρ = 2.67", "font": "Liberation Sans", "fontStyle": "italic", "fontSize": 24, "color": "#a3a3a3", "align": "right", "baseline": "middle"},
              "encoding": {"x": {"datum": 21.35, "type": "quantitative"}, "y": {"datum": 1.7, "type": "quantitative"}}
            },
            {
              "data": {"values": [{}]},
              "mark": {"type": "text", "text": "C", "font": "Liberation Sans", "fontSize": 44, "color": "#111111", "align": "center", "baseline": "alphabetic"},
              "encoding": {"x": {"datum": 23.1, "type": "quantitative"}, "y": {"datum": 1.26, "type": "quantitative"}}
            }
          ]
        },
        {
          "bounds": "flush",
          "spacing": 95,
          "hconcat": [
            {
              "width": 305,
              "height": 306,
              "title": {"text": "Neuron 4", "offset": 8, "dx": -1},
              "layer": [
                {
                  "data": {"values": [{}]},
                  "mark": {"type": "rule", "color": "#9a9a9a", "strokeWidth": 2, "strokeDash": [8, 5]},
                  "encoding": {
                    "x": {"datum": 0, "type": "quantitative"},
                    "y": {"datum": 0, "type": "quantitative"},
                    "x2": {"datum": 57.5},
                    "y2": {"datum": 57.5}
                  }
                },
                {
                  "data": {"name": "neuron4"},
                  "mark": {"type": "circle", "size": 95, "fill": "#000000", "stroke": "#d0d0d0", "strokeWidth": 1, "opacity": 1},
                  "encoding": {
                    "x": {
                      "field": "x", "type": "quantitative",
                      "scale": {"domain": [0, 57.5], "nice": false},
                      "axis": {"title": null, "values": [0, 10, 20, 30, 40, 50], "labelPadding": 5,
                               "labelOffset": {"condition": {"test": "datum.value === 0", "value": -7}, "value": 0},
                               "labelExpr": "datum.value % 20 === 0 ? datum.label : ''"}
                    },
                    "y": {
                      "field": "y", "type": "quantitative",
                      "scale": {"domain": [0, 57.5], "range": [306, 1], "nice": false},
                      "axis": {"title": null, "values": [10, 20, 30, 40, 50], "labelPadding": 9,
                               "labelExpr": "datum.value % 20 === 0 ? datum.label : ''"}
                    }
                  }
                },
                {
                  "data": {"values": [{}]},
                  "mark": {"type": "text", "text": "r = 0.15", "font": "Liberation Sans", "fontStyle": "italic", "fontSize": 24, "color": "#a3a3a3", "align": "right", "baseline": "middle"},
                  "encoding": {"x": {"datum": 48.1, "type": "quantitative"}, "y": {"datum": 9.1, "type": "quantitative"}}
                },
                {
                  "data": {"values": [{}]},
                  "mark": {"type": "text", "text": "ρ = 0.99", "font": "Liberation Sans", "fontStyle": "italic", "fontSize": 24, "color": "#a3a3a3", "align": "right", "baseline": "middle"},
                  "encoding": {"x": {"datum": 48.1, "type": "quantitative"}, "y": {"datum": 3.8, "type": "quantitative"}}
                },
                {
                  "data": {"values": [{}]},
                  "mark": {"type": "text", "text": "D", "font": "Liberation Sans", "fontSize": 44, "color": "#111111", "align": "center", "baseline": "alphabetic"},
                  "encoding": {"x": {"datum": 53, "type": "quantitative"}, "y": {"datum": 2.8, "type": "quantitative"}}
                }
              ]
            },
            {
              "width": 306,
              "height": 305,
              "title": {"text": "HMax, neuron 1", "offset": 8, "dx": -2},
              "layer": [
                {
                  "data": {"values": [{}]},
                  "mark": {"type": "rule", "color": "#9a9a9a", "strokeWidth": 2, "strokeDash": [8, 5]},
                  "encoding": {
                    "x": {"datum": 0, "type": "quantitative"},
                    "y": {"datum": 0, "type": "quantitative"},
                    "x2": {"datum": 1},
                    "y2": {"datum": 1}
                  }
                },
                {
                  "data": {"name": "hmax1"},
                  "mark": {"type": "circle", "size": 95, "fill": "#000000", "stroke": "#d0d0d0", "strokeWidth": 1, "opacity": 1},
                  "encoding": {
                    "x": {
                      "field": "x", "type": "quantitative",
                      "scale": {"domain": [0, 1], "nice": false},
                      "axis": {"title": null, "values": [0, 0.5, 1], "labelPadding": 4,
                               "labelOffset": {"condition": {"test": "datum.value === 1", "value": -3}, "value": 0},
                               "labelExpr": "datum.value === 0.5 || datum.value === 1 ? '' + datum.value : ''"}
                    },
                    "y": {
                      "field": "y", "type": "quantitative",
                      "scale": {"domain": [0, 1], "nice": false},
                      "axis": {"title": null, "values": [0, 0.5, 1], "labelPadding": 6,
                               "labelOffset": {"condition": {"test": "datum.value === 0", "value": 13}, "value": 0},
                               "tickOpacity": {"condition": {"test": "datum.value === 0", "value": 0}, "value": 1},
                               "labelExpr": "'' + datum.value"}
                    }
                  }
                },
                {
                  "data": {"values": [{}]},
                  "mark": {"type": "text", "text": "r = 0.85", "font": "Liberation Sans", "fontStyle": "italic", "fontSize": 24, "color": "#a3a3a3", "align": "right", "baseline": "middle"},
                  "encoding": {"x": {"datum": 0.833, "type": "quantitative"}, "y": {"datum": 0.138, "type": "quantitative"}}
                },
                {
                  "data": {"values": [{}]},
                  "mark": {"type": "text", "text": "ρ = 1.16", "font": "Liberation Sans", "fontStyle": "italic", "fontSize": 24, "color": "#a3a3a3", "align": "right", "baseline": "middle"},
                  "encoding": {"x": {"datum": 0.833, "type": "quantitative"}, "y": {"datum": 0.056, "type": "quantitative"}}
                },
                {
                  "data": {"values": [{}]},
                  "mark": {"type": "text", "text": "E", "font": "Liberation Sans", "fontSize": 44, "color": "#111111", "align": "center", "baseline": "alphabetic"},
                  "encoding": {"x": {"datum": 0.908, "type": "quantitative"}, "y": {"datum": 0.046, "type": "quantitative"}}
                }
              ]
            }
          ]
        }
      ]
    }
  ],
  "spacing": 393,
  "bounds": "flush"
}
